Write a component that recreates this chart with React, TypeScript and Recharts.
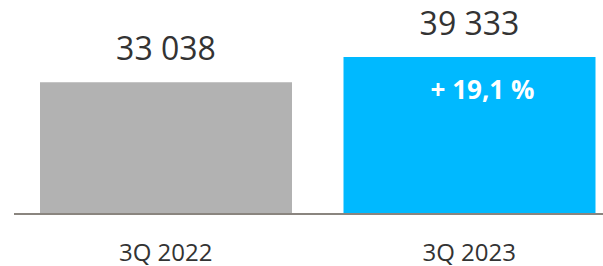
import { BarChart, Bar, XAxis, YAxis, Cell, LabelList } from "recharts";

const periods = ["3Q 2022", "3Q 2023"];
const values = [33038, 39333];
const growth = ["", "+ 19,1 %"];
const colors = ["#b2b2b2", "#00b9ff"];

const data = periods.map((p, i) => ({ period: p, value: values[i], growth: growth[i] }));

const fmt = (v: number) => v.toLocaleString("en-US").replace(/,/g, " ");

function GrowthLabel(props: any) {
  const { x, y, width, value } = props;
  if (!value) return null;
  return (
    <text x={x + width / 2 + 13} y={y + 42} textAnchor="middle" fill="#ffffff" fontSize={26} fontWeight={700} fontFamily="Open Sans">
      {value}
    </text>
  );
}

export default function App() {
  return (
    <div style={{ position: "absolute", left: 0, top: 0, width: 603, height: 266, overflow: "hidden", background: "#fff" }}>
      <BarChart width={621} height={266} data={data} margin={{ top: 57, right: 0, bottom: 0, left: 14 }}>
        <XAxis
          dataKey="period"
          height={52}
          tickLine={false}
          tickSize={0}
          tickMargin={30}
          axisLine={{ stroke: "#8a857f", strokeWidth: 2 }}
          tick={{ fill: "#333333", fontSize: 24, fontFamily: "Open Sans" }}
        />
        <YAxis hide domain={[0, 39333]} />
        <Bar dataKey="value" barSize={252} isAnimationActive={false}>
          {data.map((d, i) => (
            <Cell key={d.period} fill={colors[i]} />
          ))}
          <LabelList
            dataKey="value"
            position="top"
            offset={22}
            formatter={(v: any) => fmt(Number(v))}
            style={{ fill: "#333333", fontSize: 32, fontFamily: "Open Sans" }}
          />
          <LabelList dataKey="growth" content={<GrowthLabel />} />
        </Bar>
      </BarChart>
    </div>
  );
}
